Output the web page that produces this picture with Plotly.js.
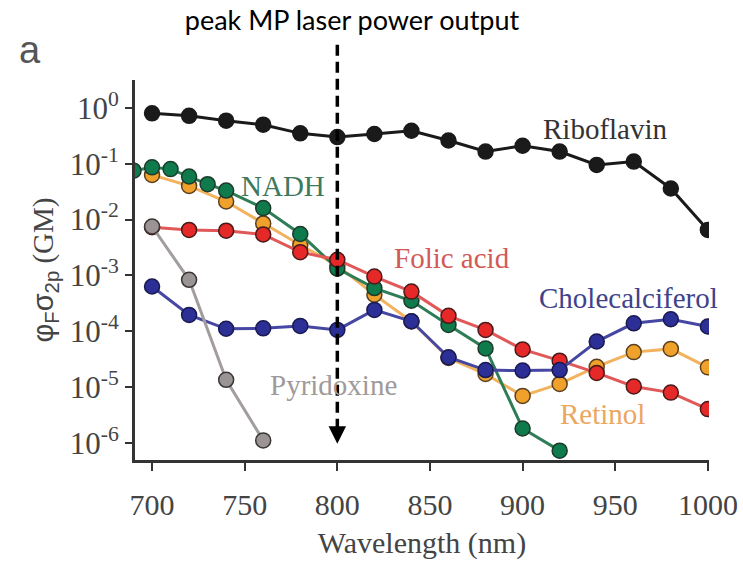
<!DOCTYPE html>
<html>
<head>
<meta charset="utf-8">
<script src="https://cdn.plot.ly/plotly-3.0.1.min.js"></script>
<style>html,body{margin:0;padding:0;background:#fff;}#chart{width:743px;height:565px;}</style>
</head>
<body>
<div id="chart"></div>
<script>
// Wavelengths (nm)
var wl20 = [700,720,740,760,780,800,820,840,860,880,900,920,940,960,980,1000];
var wlNADH = [690,700,710,720,730,740,760,780,800,820,840,860,880,900,920];
var wlPyridoxine = [700,720,740,760];

// phi_F * sigma_2p (GM)
var riboflavin = [0.80,0.72,0.59,0.50,0.35,0.30,0.34,0.39,0.26,0.165,0.21,0.165,0.095,0.109,0.036,0.0065];
var nadh = [0.075,0.086,0.080,0.059,0.043,0.033,0.016,0.0055,0.00132,0.00059,0.00035,0.000129,4.9e-5,1.8e-6,7.2e-7];
var retinol = [0.063,0.040,0.021,0.0085,0.0035,0.0015,0.00045,0.000149,3.3e-5,1.7e-5,6.9e-6,1.13e-5,2.3e-5,4.2e-5,4.8e-5,2.24e-5];
var folicAcid = [0.0073,0.0065,0.0063,0.0054,0.0026,0.0019,0.00095,0.00051,0.000188,0.000105,4.7e-5,2.95e-5,1.78e-5,1.02e-5,7.9e-6,4.0e-6];
var cholecalciferol = [0.00063,0.000195,0.000110,0.000112,0.000124,0.000105,0.00024,0.00015,3.4e-5,2.0e-5,1.96e-5,2.0e-5,6.5e-5,0.000138,0.000163,0.000121];
var pyridoxine = [0.0075,0.00083,1.34e-5,1.1e-6];

var xTicks = [700,750,800,850,900,950,1000];
var yTickVals = [1e-6,1e-5,1e-4,1e-3,1e-2,1e-1,1];
var yTickText = ['10<sup>-6</sup>','10<sup>-5</sup>','10<sup>-4</sup>','10<sup>-3</sup>','10<sup>-2</sup>','10<sup>-1</sup>','10<sup>0</sup>'];

function series(x, y, lineColor, fillColor, outline) {
  return {
    x: x, y: y, type: 'scatter', mode: 'lines+markers', hoverinfo: 'skip',
    line: {color: lineColor, width: 3},
    marker: {size: 15, color: fillColor, line: {color: outline, width: 1.5}},
    showlegend: false
  };
}

var data = [
  series(wl20, retinol, '#f2b25e', '#efa12c', '#5a4020'),
  series(wlNADH, nadh, '#2f7d56', '#0f7a4c', '#1d3a2a'),
  series(wl20, folicAcid, '#e05858', '#e52828', '#4a1a1a'),
  series(wl20, cholecalciferol, '#4547a2', '#2b2f96', '#1a1a50'),
  series(wlPyridoxine, pyridoxine, '#a39d9d', '#9a9494', '#3a3636'),
  series(wl20, riboflavin, '#1a1a1a', '#1a1a1a', '#1a1a1a')
];

function lab(c){ return {family: 'Liberation Serif', size: 29, color: c}; }

var layout = {
  width: 743, height: 565,
  font: {family: 'Liberation Serif', color: '#444'},
  margin: {l: 135, r: 34, t: 80, b: 105},
  paper_bgcolor: '#fff', plot_bgcolor: '#fff',
  title: {text: 'peak MP laser power output', x: 352/743, xanchor: 'center', y: 1 - 21/565, yanchor: 'middle', yref: 'container',
          font: {family: 'Lato', size: 27, color: '#000'}},
  xaxis: {
    range: [690.8, 1000.6], tickvals: xTicks, ticks: 'outside', ticklen: 8, tickwidth: 2, tickcolor: '#333',
    ticklabelstandoff: 8,
    showline: true, linecolor: '#333', linewidth: 3, showgrid: false, zeroline: false,
    tickfont: {family: 'Liberation Serif', size: 30, color: '#444'},
    title: {text: 'Wavelength (nm)', font: {family: 'Liberation Serif', size: 30, color: '#444'}, standoff: 12}
  },
  yaxis: {
    type: 'log', range: [-6.31, 0.50], tickvals: yTickVals, ticktext: yTickText,
    ticks: 'outside', ticklen: 7, tickwidth: 2, tickcolor: '#333',
    showline: true, linecolor: '#333', linewidth: 3, showgrid: false, zeroline: false,
    tickfont: {family: 'Liberation Serif', size: 31, color: '#444'},
    title: {text: '<span style="font-family:Liberation Sans">φ<sub>F</sub>σ<sub>2p</sub></span> (GM)',
            font: {family: 'Liberation Serif', size: 29, color: '#444'}, standoff: 8}
  },
  shapes: [
    {type: 'line', xref: 'x', yref: 'paper', x0: 800, x1: 800, y0: 1.093, y1: 0.075,
     line: {color: '#000', width: 3.5, dash: '11px,6px'}, layer: 'above'}
  ],
  annotations: [
    {xref: 'x', yref: 'paper', x: 800, y: 0.043, ax: 0, ay: -16, showarrow: true, arrowhead: 2, arrowsize: 1, arrowwidth: 3.5, arrowcolor: '#000', text: ''},
    {xref: 'paper', yref: 'paper', x: (30-135)/574, y: (460-50)/380, text: 'a', showarrow: false,
     xanchor: 'center', yanchor: 'middle', font: {family: 'Liberation Sans', size: 38, color: '#555'}},
    {xref: 'paper', yref: 'paper', x: 0.819, y: 0.872, text: 'Riboflavin', showarrow: false, xanchor: 'center', yanchor: 'middle', font: lab('#333')},
    {xref: 'paper', yref: 'paper', x: 0.258, y: 0.722, text: 'NADH', showarrow: false, xanchor: 'center', yanchor: 'middle', font: lab('#3d7a5e')},
    {xref: 'paper', yref: 'paper', x: 0.552, y: 0.532, text: 'Folic acid', showarrow: false, xanchor: 'center', yanchor: 'middle', font: lab('#d25a55')},
    {xref: 'paper', yref: 'paper', x: 0.859, y: 0.427, text: 'Cholecalciferol', showarrow: false, xanchor: 'center', yanchor: 'middle', font: lab('#40428a')},
    {xref: 'paper', yref: 'paper', x: 0.345, y: 0.198, text: 'Pyridoxine', showarrow: false, xanchor: 'center', yanchor: 'middle', font: lab('#a09a9a')},
    {xref: 'paper', yref: 'paper', x: 0.815, y: 0.122, text: 'Retinol', showarrow: false, xanchor: 'center', yanchor: 'middle', font: lab('#eba75e')}
  ]
};

Plotly.newPlot('chart', data, layout, {displayModeBar: false, staticPlot: true});
</script>
</body>
</html>
